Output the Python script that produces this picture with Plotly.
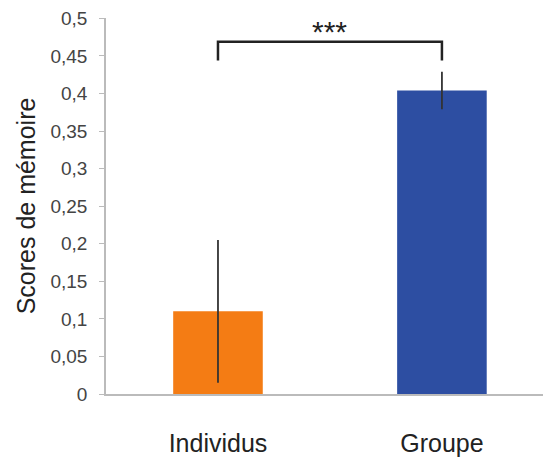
import plotly.graph_objects as go

categories = ["Individus", "Groupe"]
scores = [0.11, 0.404]
errors = [0.095, 0.025]
colors = ["#F47C14", "#2D4EA2"]
y_ticks = [0, 0.05, 0.1, 0.15, 0.2, 0.25, 0.3, 0.35, 0.4, 0.45, 0.5]
y_ticklabels = ["0", "0,05", "0,1", "0,15", "0,2", "0,25", "0,3", "0,35", "0,4", "0,45", "0,5"]
signif_label = "***"
bracket_top = 0.469
bracket_bottom = 0.444
stars_y = 0.49

FONT = "Liberation Sans, Arial, sans-serif"

fig = go.Figure()
fig.add_trace(go.Bar(
    x=categories, y=scores,
    marker=dict(color=colors, line=dict(width=0)),
    width=0.4,
    error_y=dict(type="data", array=errors, visible=True, color="#333333", thickness=1.8, width=0),
))

fig.add_shape(type="path",
              path=f"M {0},{bracket_bottom} L {0},{bracket_top} L {1},{bracket_top} L {1},{bracket_bottom}",
              xref="x", yref="y", line=dict(color="#222222", width=2.5))
fig.add_annotation(x=0.5, y=stars_y, xref="x", yref="y", text=signif_label,
                   showarrow=False, yanchor="middle", yshift=-6,
                   font=dict(family=FONT, size=30, color="#222222"))

fig.update_layout(
    width=543, height=449,
    margin=dict(l=98, r=0, t=8, b=59),
    plot_bgcolor="white", paper_bgcolor="white",
    showlegend=False,
    font=dict(family=FONT, color="#333333"),
    xaxis=dict(
        type="category", range=[-0.5, 1.487],
        showline=True, linecolor="#BBBBBB", linewidth=1.5,
        ticks="", tickfont=dict(size=25, color="#222222"),
        ticklabelstandoff=26,
    ),
    yaxis=dict(
        range=[0, 0.5005], tickvals=y_ticks, ticktext=y_ticklabels,
        showline=True, linecolor="#BBBBBB", linewidth=1.5,
        ticks="outside", ticklen=5, tickcolor="#BBBBBB",
        showgrid=False, zeroline=False,
        tickfont=dict(size=19, color="#444444"),
        ticklabelstandoff=8, ticklabeloverflow="allow",
        title=dict(text="Scores de mémoire", font=dict(size=25, color="#222222"), standoff=8),
    ),
)

# category boundary tick on x axis
fig.add_shape(type="line", x0=0.5, x1=0.5, y0=0, y1=-0.012, xref="x", yref="y",
              line=dict(color="#BBBBBB", width=1.5))

fig.write_html("out.html")
